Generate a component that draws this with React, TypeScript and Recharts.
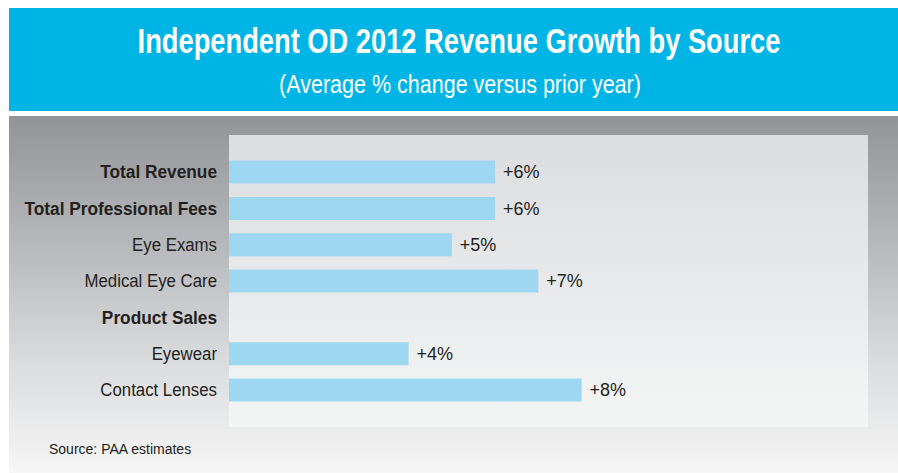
import { useLayoutEffect, useRef, useState } from 'react'
import { BarChart, Bar, XAxis, YAxis, CartesianGrid, LabelList } from 'recharts'

const categories = [
  'Total Revenue',
  'Total Professional Fees',
  'Eye Exams',
  'Medical Eye Care',
  'Product Sales',
  'Eyewear',
  'Contact Lenses',
]
// bar lengths (in % points)
const growth = [6.15, 6.15, 5.15, 7.15, null, 4.15, 8.15]
const growthLabels = ['+6%', '+6%', '+5%', '+7%', '', '+4%', '+8%']
const boldRows = ['Total Revenue', 'Total Professional Fees', 'Product Sales']

const data = categories.map((name, i) => ({
  name,
  value: growth[i],
  label: growthLabels[i],
}))

const FONT = '"Liberation Sans", Arial, sans-serif'
const INK = '#231f20'

// squeezes a centred svg text to a given width (the original uses a condensed face)
function FitText({ x, y, width, children, ...rest }: any) {
  const ref = useRef<SVGTextElement>(null)
  const [sx, setSx] = useState(1)
  useLayoutEffect(() => {
    if (ref.current) {
      const w = ref.current.getComputedTextLength()
      if (w > 0) setSx(width / w)
    }
  }, [width])
  return (
    <text
      ref={ref}
      x={x}
      y={y}
      textAnchor="middle"
      transform={`translate(${x} ${y}) scale(${sx} 1) translate(${-x} ${-y})`}
      {...rest}
    >
      {children}
    </text>
  )
}

function CategoryTick({ x, y, payload }: any) {
  const bold = boldRows.includes(payload.value)
  return (
    <text
      x={x}
      y={y}
      dy="0.36em"
      textAnchor="end"
      fill={INK}
      fontFamily={FONT}
      fontSize={bold ? 18 : 17.5}
      fontWeight={bold ? 700 : 400}
      transform={`translate(${x} ${y}) scale(0.96 1) translate(${-x} ${-y})`}
    >
      {payload.value}
    </text>
  )
}

export default function App() {
  return (
    <div style={{ position: 'absolute', left: 0, top: 0, width: 898, height: 473, background: '#fff', overflow: 'hidden' }}>
      <div style={{ position: 'absolute', left: 9, top: 8, width: 889, height: 103, background: '#00b5e6' }} />
      <div
        style={{
          position: 'absolute',
          left: 9,
          top: 116,
          width: 889,
          height: 357,
          background: 'linear-gradient(#939498 0%, #b6b7ba 35%, #dcdddf 70%, #f6f6f6 100%)',
        }}
      />
      <svg width={898} height={120} style={{ position: 'absolute', left: 0, top: 0 }}>
        <FitText x={459} y={53} width={643} fill="#fff" fontFamily={FONT} fontWeight={700} fontSize={35}>
          Independent OD 2012 Revenue Growth by Source
        </FitText>
        <FitText x={460} y={93} width={362} fill="#fff" fontFamily={FONT} fontSize={25}>
          (Average % change versus prior year)
        </FitText>
      </svg>
      <div style={{ position: 'absolute', left: 0, top: 0 }}>
        <BarChart
          width={898}
          height={473}
          data={data}
          layout="vertical"
          margin={{ top: 135, right: 30, bottom: 46, left: 0 }}
        >
          <defs>
            <linearGradient id="plotBg" x1="0" y1="0" x2="0" y2="1">
              <stop offset="0%" stopColor="#dcdddf" />
              <stop offset="100%" stopColor="#f4f5f5" />
            </linearGradient>
          </defs>
          <CartesianGrid fill="url(#plotBg)" horizontal={false} vertical={false} />
          <XAxis type="number" domain={[0, 14.77]} hide />
          <YAxis
            type="category"
            dataKey="name"
            width={229}
            axisLine={false}
            tickLine={false}
            tickMargin={6}
            interval={0}
            padding={{ top: 18.6, bottom: 19.1 }}
            tick={<CategoryTick />}
          />
          <Bar dataKey="value" fill="#9dd7f2" barSize={23} isAnimationActive={false}>
            <LabelList
              dataKey="label"
              position="right"
              offset={8}
              fill={INK}
              fontFamily={FONT}
              fontSize={18}
            />
          </Bar>
        </BarChart>
      </div>
      <div
        style={{
          position: 'absolute',
          left: 49,
          top: 441,
          fontFamily: FONT,
          fontSize: 14,
          color: INK,
          whiteSpace: 'nowrap',
        }}
      >
        Source: PAA estimates
      </div>
    </div>
  )
}
